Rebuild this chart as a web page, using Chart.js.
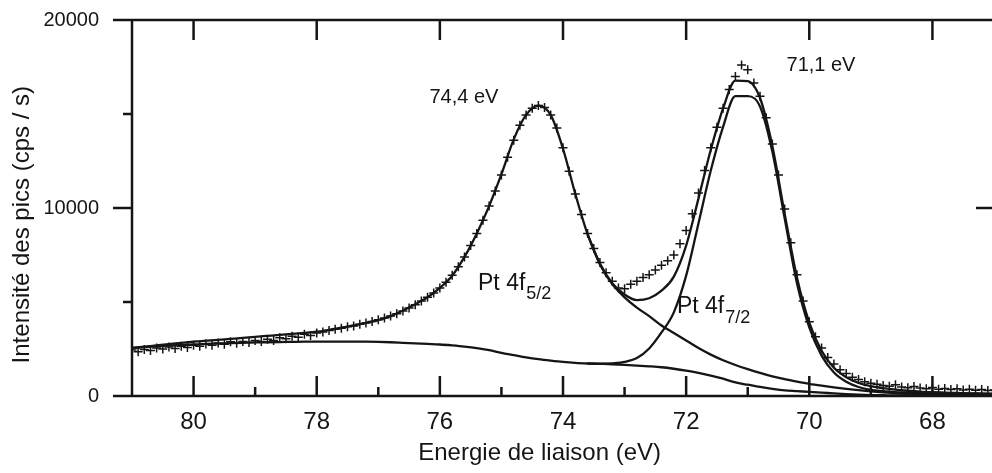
<!DOCTYPE html>
<html>
<head>
<meta charset="utf-8">
<script src="https://cdn.jsdelivr.net/npm/chart.js@4.4.1/dist/chart.umd.min.js"></script>
<style>
    html, body { margin: 0; padding: 0; background: #fff; overflow: hidden; }
    #wrap { width: 1000px; height: 473px; }
</style>
</head>
<body>
<div id="wrap"><canvas id="xpsChart" width="1000" height="473"></canvas></div>
<script>
// measured spectrum (binding energy in eV, counts per second)
const dataEnergy = [
    81.0, 80.9, 80.8, 80.7, 80.6, 80.5, 80.4, 80.3, 80.2, 80.1,
    80.0, 79.9, 79.8, 79.7, 79.6, 79.5, 79.4, 79.3, 79.2, 79.1,
    79.0, 78.9, 78.8, 78.7, 78.6, 78.5, 78.4, 78.3, 78.2, 78.1,
    78.0, 77.9, 77.8, 77.7, 77.6, 77.5, 77.4, 77.3, 77.2, 77.1,
    77.0, 76.9, 76.8, 76.7, 76.6, 76.5, 76.4, 76.3, 76.2, 76.1,
    76.0, 75.9, 75.8, 75.7, 75.6, 75.5, 75.4, 75.3, 75.2, 75.1,
    75.0, 74.9, 74.8, 74.7, 74.6, 74.5, 74.4, 74.3, 74.2, 74.1,
    74.0, 73.9, 73.8, 73.7, 73.6, 73.5, 73.4, 73.3, 73.2, 73.1,
    73.0, 72.9, 72.8, 72.7, 72.6, 72.5, 72.4, 72.3, 72.2, 72.1,
    72.0, 71.9, 71.8, 71.7, 71.6, 71.5, 71.4, 71.3, 71.2, 71.1,
    71.0, 70.9, 70.8, 70.7, 70.6, 70.5, 70.4, 70.3, 70.2, 70.1,
    70.0, 69.9, 69.8, 69.7, 69.6, 69.5, 69.4, 69.3, 69.2, 69.1,
    69.0, 68.9, 68.8, 68.7, 68.6, 68.5, 68.4, 68.3, 68.2, 68.1,
    68.0, 67.9, 67.8, 67.7, 67.6, 67.5, 67.4, 67.3, 67.2, 67.1,
    67.0
];
const dataCounts = [
    2450, 2350, 2480, 2420, 2550, 2500, 2600, 2530, 2650, 2580,
    2700, 2640, 2760, 2700, 2820, 2750, 2880, 2800, 2900, 2840,
    2950, 2900, 3020, 2950, 3100, 3050, 3180, 3120, 3280, 3220,
    3350, 3400, 3480, 3550, 3600, 3680, 3720, 3820, 3880, 3960,
    4060, 4150, 4260, 4380, 4520, 4680, 4850, 5050, 5250, 5480,
    5750, 6050, 6420, 6880, 7400, 8000, 8650, 9350, 10100, 10900,
    11750, 12700, 13600, 14400, 14950, 15300, 15450, 15350, 14950, 14250,
    13200, 11950, 10750, 9650, 8650, 7850, 7100, 6550, 6100, 5750,
    5700, 5950, 6100, 6300, 6450, 6700, 6950, 7200, 7500, 8100,
    8800, 9700, 10800, 12000, 13200, 14300, 15300, 16300, 17000, 17600,
    17350, 16650, 15950, 14800, 13400, 11750, 9950, 8150, 6450, 5050,
    3950, 3150, 2550, 2050, 1700, 1400, 1200, 1000, 880, 760,
    680, 620, 560, 520, 600, 480, 440, 500, 420, 380,
    450, 360, 400, 340, 380, 320, 360, 300, 340, 290,
    320
];

// fitted curves
const fitEnergy = [
    81.0, 80.8, 80.6, 80.4, 80.2, 80.0, 79.8, 79.6, 79.4, 79.2,
    79.0, 78.8, 78.6, 78.4, 78.2, 78.0, 77.8, 77.6, 77.4, 77.2,
    77.0, 76.8, 76.6, 76.4, 76.2, 76.0, 75.8, 75.6, 75.4, 75.2,
    75.0, 74.8, 74.6, 74.4, 74.2, 74.0, 73.8, 73.6, 73.4, 73.2,
    73.0, 72.8, 72.6, 72.4, 72.2, 72.0, 71.8, 71.6, 71.4, 71.2,
    71.0, 70.8, 70.6, 70.4, 70.2, 70.0, 69.8, 69.6, 69.4, 69.2,
    69.0, 68.8, 68.6, 68.4, 68.2, 68.0, 67.8, 67.6, 67.4, 67.2,
    67.0
];
const envelope = [
    2550, 2620, 2690, 2760, 2830, 2890, 2940, 2990, 3040, 3090,
    3150, 3200, 3250, 3310, 3360, 3420, 3520, 3630, 3760, 3890,
    4040, 4250, 4550, 4880, 5250, 5750, 6400, 7400, 8650, 10100,
    11800, 13650, 14950, 15450, 14950, 13150, 10750, 8600, 7050, 6000,
    5400, 5100, 5200, 5600, 6350, 8000, 10500, 13100, 15300, 16780,
    16750, 15850, 13300, 9700, 6300, 3900, 2400, 1500, 1000, 700,
    520, 420, 340, 280, 230, 200, 180, 160, 140, 130,
    120
];
const background = [
    2560, 2600, 2640, 2680, 2710, 2740, 2770, 2790, 2810, 2830,
    2850, 2860, 2870, 2880, 2890, 2890, 2890, 2890, 2890, 2890,
    2880, 2860, 2830, 2800, 2770, 2740, 2690, 2630, 2550, 2440,
    2300, 2180, 2060, 1960, 1880, 1810, 1760, 1730, 1710, 1690,
    1660, 1620, 1580, 1530, 1450, 1350, 1230, 1090, 920, 720,
    600, 480, 380, 300, 260, 220, 180, 140, 100, 70,
    50, 40, 30, 25, 20, 20, 20, 20, 20, 20,
    20
];

// component curves on the low energy side (left side follows envelope / background)
const tailEnergy = [
    73.6, 73.4, 73.2, 73.0, 72.8, 72.6, 72.4, 72.2, 72.0, 71.8,
    71.6, 71.4, 71.2, 71.0, 70.8, 70.6, 70.4, 70.2, 70.0, 69.8,
    69.6, 69.4, 69.2, 69.0, 68.8, 68.6, 68.4, 68.2, 68.0, 67.8,
    67.6, 67.4, 67.2, 67.0
];
const pt4f52 = [
    8600, 7000, 5950, 5250, 4700, 4250, 3750, 3350, 2950, 2550,
    2200, 1900, 1650, 1430, 1230, 1050, 900, 770, 650, 550,
    460, 380, 310, 250, 200, 160, 120, 90, 70, 55,
    45, 35, 30, 25
];
const pt4f72 = [
    1730, 1715, 1740, 1810, 2020, 2530, 3380, 4450, 6400, 9180,
    11990, 14320, 15950, 15950, 15400, 13000, 9450, 6000, 3650, 2150,
    1250, 760, 480, 330, 260, 210, 185, 160, 150, 145,
    135, 125, 120, 115
];

// axis ticks
const xMajorTicks = [80, 78, 76, 74, 72, 70, 68];
const xMinorTicks = [79, 77, 75, 73, 71, 69];
const yMajorTicks = [0, 10000, 20000];
const yMinorTicks = [5000, 15000];

// labels placed in data coordinates
const peakNotes = [
    { text: "74,4 eV", e: 75.61, v: 15900 },
    { text: "71,1 eV", e: 69.81, v: 17600 }
];
const componentNotes = [
    { main: "Pt 4f", sub: "5/2", e: 75.38, v: 6000 },
    { main: "Pt 4f", sub: "7/2", e: 72.15, v: 4730 }
];

const INK = "#151515";
const FONT = "'Liberation Sans', Arial, Helvetica, sans-serif";

const pairs = (xs, ys) => xs.map((x, i) => ({ x: x, y: ys[i] }));

const curve = (label, data) => ({
    label: label,
    data: data,
    showLine: true,
    borderColor: INK,
    borderWidth: 2.3,
    pointRadius: 0,
    fill: false,
    cubicInterpolationMode: "monotone"
});

// no extra room for the tick labels, the layout is fixed by hand
const noPadding = (scale) => {
    scale.paddingTop = 0;
    scale.paddingBottom = 0;
    scale.paddingLeft = 0;
    scale.paddingRight = 0;
};

const framePlugin = {
    id: "xpsFrame",
    afterDraw(chart) {
        const { ctx, chartArea: a, scales } = chart;
        const x = scales.x, y = scales.y;
        ctx.save();
        ctx.strokeStyle = INK;
        ctx.lineWidth = 2.5;
        ctx.beginPath();
        // box
        ctx.moveTo(a.left - 19, a.top); ctx.lineTo(a.right, a.top);
        ctx.moveTo(a.left - 19, a.bottom); ctx.lineTo(a.right, a.bottom);
        ctx.moveTo(a.left, a.top); ctx.lineTo(a.left, a.bottom);
        ctx.moveTo(a.right, a.top); ctx.lineTo(a.right, a.bottom);
        xMajorTicks.forEach(v => {
            const px = x.getPixelForValue(v);
            ctx.moveTo(px, a.bottom); ctx.lineTo(px, a.bottom - 20);
            ctx.moveTo(px, a.top); ctx.lineTo(px, a.top + 20);
        });
        xMinorTicks.forEach(v => {
            const px = x.getPixelForValue(v);
            ctx.moveTo(px, a.bottom); ctx.lineTo(px, a.bottom - 9);
        });
        yMajorTicks.forEach(v => {
            const py = y.getPixelForValue(v);
            ctx.moveTo(a.left - 19, py); ctx.lineTo(a.left, py);
            ctx.moveTo(a.right, py); ctx.lineTo(a.right - 18, py);
        });
        yMinorTicks.forEach(v => {
            const py = y.getPixelForValue(v);
            ctx.moveTo(a.left - 9, py); ctx.lineTo(a.left, py);
        });
        ctx.stroke();

        // annotations
        ctx.fillStyle = INK;
        ctx.textBaseline = "middle";
        ctx.textAlign = "center";
        ctx.font = "20px " + FONT;
        peakNotes.forEach(n => {
            ctx.fillText(n.text, x.getPixelForValue(n.e), y.getPixelForValue(n.v));
        });
        ctx.textAlign = "left";
        componentNotes.forEach(n => {
            const px = x.getPixelForValue(n.e);
            const py = y.getPixelForValue(n.v);
            ctx.font = "23px " + FONT;
            ctx.fillText(n.main, px, py);
            const w = ctx.measureText(n.main).width;
            ctx.font = "18px " + FONT;
            ctx.fillText(n.sub, px + w + 1, py + 11);
        });
        ctx.restore();
    }
};

try {
    const ctx = document.getElementById("xpsChart").getContext("2d");
    new Chart(ctx, {
        type: "scatter",
        data: {
            datasets: [
                curve("Enveloppe", pairs(fitEnergy, envelope)),
                curve("Fond", pairs(fitEnergy, background)),
                curve("Pt 4f5/2", pairs(tailEnergy, pt4f52)),
                curve("Pt 4f7/2", pairs(tailEnergy, pt4f72)),
                {
                    label: "Mesure",
                    data: pairs(dataEnergy, dataCounts),
                    showLine: false,
                    pointStyle: "cross",
                    pointRadius: 4.5,
                    pointBorderWidth: 1.5,
                    borderColor: INK,
                    backgroundColor: INK
                }
            ]
        },
        options: {
            responsive: false,
            animation: false,
            devicePixelRatio: 1,
            layout: {
                padding: { top: 20, right: 6, left: 0, bottom: 0 }
            },
            scales: {
                x: {
                    type: "linear",
                    reverse: true,
                    min: 67,
                    max: 81,
                    afterFit: (scale) => { scale.height = 77; noPadding(scale); },
                    grid: { display: false, drawTicks: false },
                    border: { display: false },
                    ticks: {
                        stepSize: 1,
                        autoSkip: false,
                        maxRotation: 0,
                        padding: 12,
                        color: INK,
                        font: { family: FONT, size: 24 },
                        callback: (v) => (v % 2 === 0 && v > 67 && v < 81 ? String(v) : "")
                    },
                    title: {
                        display: true,
                        text: "Energie de liaison (eV)       ",
                        color: INK,
                        font: { family: FONT, size: 24 },
                        padding: { top: 0, bottom: 5 }
                    }
                },
                y: {
                    min: 0,
                    max: 20000,
                    afterFit: (scale) => { scale.width = 132; noPadding(scale); },
                    grid: { display: false, drawTicks: false },
                    border: { display: false },
                    ticks: {
                        stepSize: 10000,
                        padding: 33,
                        color: INK,
                        font: { family: FONT, size: 20 },
                        callback: (v) => String(v)
                    },
                    title: {
                        display: true,
                        text: "Intensité des pics (cps / s)     ",
                        color: INK,
                        font: { family: FONT, size: 24 },
                        padding: { top: 8, bottom: 0 }
                    }
                }
            },
            plugins: {
                legend: { display: false },
                tooltip: { enabled: false }
            }
        },
        plugins: [framePlugin]
    });
} catch (e) {
    console.error(e);
}
</script>
</body>
</html>
